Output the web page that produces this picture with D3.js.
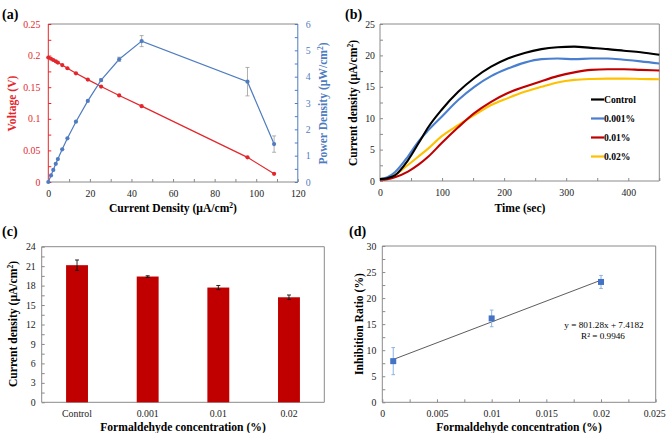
<!DOCTYPE html>
<html><head><meta charset="utf-8">
<script src="https://cdn.jsdelivr.net/npm/d3@7"></script>
<style>
body{margin:0;background:#fff}
</style>
</head><body><svg id="c" width="666" height="433" font-family="Liberation Serif, Times New Roman, serif"></svg>
<script>
// ---------- Panel (a) data ----------
const aCurrent  = [0, 1.3, 2.4, 3.6, 4.6, 6.7, 9.2, 13.3, 19.0, 25.4, 34.1, 44.9, 95.8, 108.6];
const aVoltage  = [0.197, 0.195, 0.193, 0.191, 0.189, 0.185, 0.180, 0.172, 0.162, 0.151, 0.137, 0.120, 0.039, 0.013];
const aPower    = [0, 0.25, 0.46, 0.69, 0.87, 1.24, 1.66, 2.29, 3.08, 3.87, 4.66, 5.35, 3.81, 1.44];
const aPowerErr = [0, 0, 0, 0, 0, 0, 0, 0, 0, 0.05, 0.08, 0.21, 0.54, 0.31];
const aXTicks = [0, 20, 40, 60, 80, 100, 120];
const aVTicks = [0, 0.05, 0.1, 0.15, 0.2, 0.25];
const aPTicks = [0, 1, 2, 3, 4, 5, 6];

// ---------- Panel (b) data ----------
const bTime    = [0, 12, 24, 45, 62, 78, 99, 126, 152, 179, 206, 233, 260, 286, 313, 340, 367, 393, 420, 450];
const bControl = [0.3, 0.45, 0.9, 3.3, 6.0, 8.6, 11.3, 14.2, 16.4, 18.2, 19.5, 20.4, 21.0, 21.3, 21.4, 21.2, 21.0, 20.75, 20.5, 20.1];
const b0001    = [0.3, 0.6, 1.4, 3.9, 6.3, 8.1, 10.2, 12.9, 15.0, 16.7, 17.9, 18.85, 19.4, 19.5, 19.4, 19.5, 19.5, 19.3, 19.05, 18.7];
const b001     = [0.2, 0.3, 0.6, 1.5, 2.6, 3.9, 6.0, 8.55, 10.8, 12.6, 14.0, 15.0, 15.9, 16.7, 17.3, 17.7, 17.8, 17.8, 17.7, 17.6];
const b002     = [0.3, 0.5, 0.95, 2.55, 3.9, 5.2, 7.1, 8.9, 10.5, 12.1, 13.2, 14.2, 15.0, 15.7, 16.1, 16.25, 16.3, 16.3, 16.25, 16.2];
const bNames   = ["Control", "0.001%", "0.01%", "0.02%"];
const bColors  = ["#000000", "#4a7fd0", "#c00000", "#ffc000"];
const bXTicks  = [0, 100, 200, 300, 400];
const bYTicks  = [0, 5, 10, 15, 20, 25];

// ---------- Panel (c) data ----------
const cCategories = ["Control", "0.001", "0.01", "0.02"];
const cValues     = [21.15, 19.4, 17.7, 16.2];
const cErrors     = [0.8, 0.12, 0.32, 0.35];
const cYTicks     = [0, 3, 6, 9, 12, 15, 18, 21, 24];

// ---------- Panel (d) data ----------
const dConc       = [0.001, 0.01, 0.02];
const dInhibition = [7.9, 16.1, 23.1];
const dErrors     = [2.6, 1.6, 1.25];
const dSlope = 801.28, dIntercept = 7.4182;
const dXTicks = [0, 0.005, 0.01, 0.015, 0.02, 0.025];
const dYTicks = [0, 5, 10, 15, 20, 25, 30];

const FONT = '"Liberation Serif", "Times New Roman", serif';
const svg = d3.select("#c");
const GRAY = "#8a8a8a";
const TXT = "#222";
const TICKFS = 9.8, TITLEFS = 11.6;

function styleAxis(g, color, fs) {
  g.attr("font-family", null).attr("font-size", null);
  g.select(".domain").remove();
  g.selectAll("line").attr("stroke", color);
  g.selectAll("text").attr("fill", color === GRAY ? TXT : color).style("font-size", fs + "px");
}
function minor(vals) {
  const out = [];
  for (let i = 0; i < vals.length - 1; i++) out.push((vals[i] + vals[i + 1]) / 2);
  return out;
}
function line(x1, y1, x2, y2, color, w) {
  svg.append("line").attr("x1", x1).attr("y1", y1).attr("x2", x2).attr("y2", y2)
    .attr("stroke", color).attr("stroke-width", w || 1);
}
function label(x, y, txt, opts) {
  const t = svg.append("text").attr("x", x).attr("y", y).text(txt)
    .attr("text-anchor", opts.anchor || "middle")
    .style("font-size", opts.size + "px").style("font-weight", opts.bold ? "bold" : "normal")
    .attr("fill", opts.color || "#000");
  if (opts.rot) t.attr("transform", `rotate(-90,${x},${y})`);
  return t;
}
function richLabel(x, y, parts, opts) {
  const t = svg.append("text").attr("x", x).attr("y", y)
    .attr("text-anchor", "middle").style("font-size", opts.size + "px")
    .style("font-weight", "bold").attr("fill", opts.color || "#000");
  parts.forEach(p => {
    const ts = t.append("tspan").text(p.t);
    if (p.sup) ts.attr("baseline-shift", "super").style("font-size", (opts.size * 0.65) + "px");
  });
  if (opts.rot) t.attr("transform", `rotate(-90,${x},${y})`);
}

// ================= Panel (a) =================
{
  const x = d3.scaleLinear().domain([0, 120]).range([48.3, 297.8]);
  const yV = d3.scaleLinear().domain([0, 0.25]).range([182, 24]);
  const yP = d3.scaleLinear().domain([0, 6]).range([182, 24]);
  const RED = "#e3262b", BLUE = "#4f7cc0";
  line(48.3, 24, 297.8, 24, GRAY);
  line(48.3, 182, 297.8, 182, GRAY);
  line(48.3, 24, 48.3, 182, RED);
  line(297.8, 24, 297.8, 182, BLUE);
  let g = svg.append("g").attr("transform", "translate(0,182)")
    .call(d3.axisBottom(x).tickValues(aXTicks).tickSize(-3).tickPadding(8).tickFormat(d3.format("d")));
  styleAxis(g, GRAY, TICKFS);
  g = svg.append("g").attr("transform", "translate(0,182)")
    .call(d3.axisBottom(x).tickValues(minor(aXTicks)).tickSize(-3).tickFormat(""));
  styleAxis(g, GRAY, TICKFS);
  g = svg.append("g").attr("transform", "translate(48.3,0)")
    .call(d3.axisLeft(yV).tickValues(aVTicks).tickSize(-3).tickPadding(8).tickFormat(d => d === 0 ? "0" : String(+d.toFixed(2))));
  styleAxis(g, RED, TICKFS);
  g = svg.append("g").attr("transform", "translate(48.3,0)")
    .call(d3.axisLeft(yV).tickValues(minor(aVTicks)).tickSize(-3).tickFormat(""));
  styleAxis(g, RED, TICKFS);
  g = svg.append("g").attr("transform", "translate(297.8,0)")
    .call(d3.axisRight(yP).tickValues(aPTicks).tickSize(-3).tickPadding(8).tickFormat(d3.format("d")));
  styleAxis(g, BLUE, TICKFS);
  g = svg.append("g").attr("transform", "translate(297.8,0)")
    .call(d3.axisRight(yP).tickValues(minor(aPTicks)).tickSize(-3).tickFormat(""));
  styleAxis(g, BLUE, TICKFS);

  const idx = d3.range(aCurrent.length);
  svg.append("path").datum(idx).attr("fill", "none").attr("stroke", RED).attr("stroke-width", 1.2)
    .attr("d", d3.line().x(i => x(aCurrent[i])).y(i => yV(aVoltage[i])));
  svg.selectAll(".vpt").data(idx).join("circle").attr("cx", i => x(aCurrent[i])).attr("cy", i => yV(aVoltage[i]))
    .attr("r", 2.1).attr("fill", RED);
  svg.append("path").datum(idx).attr("fill", "none").attr("stroke", BLUE).attr("stroke-width", 1.2)
    .attr("d", d3.line().x(i => x(aCurrent[i])).y(i => yP(aPower[i])));
  idx.filter(i => aPowerErr[i] > 0).forEach(i => {
    const cx = x(aCurrent[i]);
    const t = yP(aPower[i] + aPowerErr[i]), b = yP(aPower[i] - aPowerErr[i]);
    line(cx, t, cx, b, "#9a9a9a", 0.8);
    line(cx - 2, t, cx + 2, t, "#9a9a9a", 0.8);
    line(cx - 2, b, cx + 2, b, "#9a9a9a", 0.8);
  });
  svg.selectAll(".ppt").data(idx).join("circle").attr("cx", i => x(aCurrent[i])).attr("cy", i => yP(aPower[i]))
    .attr("r", 2.1).attr("fill", BLUE);

  label(2, 19, "(a)", { size: 14, bold: true, anchor: "start" });
  label(16, 103.5, "Voltage (V)", { size: TITLEFS, bold: true, color: RED, rot: true });
  richLabel(327, 103.5, [{ t: "Power Density (μW/cm" }, { t: "2", sup: true }, { t: ")" }], { size: TITLEFS, color: BLUE, rot: true });
  richLabel(173, 212, [{ t: "Current Density (μA/cm" }, { t: "2", sup: true }, { t: ")" }], { size: TITLEFS });
}

// ================= Panel (b) =================
{
  const x = d3.scaleLinear().domain([0, 450]).range([380, 659.3]);
  const y = d3.scaleLinear().domain([0, 25]).range([181, 24]);
  line(380, 24, 659.3, 24, GRAY);
  line(659.3, 24, 659.3, 181, GRAY);
  line(380, 181, 659.3, 181, GRAY);
  line(380, 24, 380, 181, GRAY);
  let g = svg.append("g").attr("transform", "translate(0,181)")
    .call(d3.axisBottom(x).tickValues(bXTicks).tickSize(-3).tickPadding(8.5).tickFormat(d3.format("d")));
  styleAxis(g, GRAY, TICKFS);
  g = svg.append("g").attr("transform", "translate(0,181)")
    .call(d3.axisBottom(x).tickValues([50, 150, 250, 350, 450]).tickSize(-3).tickFormat(""));
  styleAxis(g, GRAY, TICKFS);
  g = svg.append("g").attr("transform", "translate(380,0)")
    .call(d3.axisLeft(y).tickValues(bYTicks).tickSize(-3).tickPadding(5).tickFormat(d3.format("d")));
  styleAxis(g, GRAY, TICKFS);
  g = svg.append("g").attr("transform", "translate(380,0)")
    .call(d3.axisLeft(y).tickValues(minor(bYTicks)).tickSize(-3).tickFormat(""));
  styleAxis(g, GRAY, TICKFS);

  const series = [bControl, b0001, b001, b002];
  const gen = d3.line().curve(d3.curveMonotoneX).x((d, i) => x(bTime[i])).y(d => y(d));
  [3, 2, 1, 0].forEach(k => {
    svg.append("path").datum(series[k]).attr("fill", "none").attr("stroke", bColors[k])
      .attr("stroke-width", 2.1).attr("d", gen);
  });
  bNames.forEach((n, k) => {
    const ly = 99.5 + k * 19;
    line(591, ly, 604, ly, bColors[k], 2.2);
    label(604, ly + 3.3, n, { size: 9.6, bold: true, anchor: "start" });
  });
  label(345, 19, "(b)", { size: 14, bold: true, anchor: "start" });
  richLabel(357, 103, [{ t: "Current density (μA/cm" }, { t: "2", sup: true }, { t: ")" }], { size: TITLEFS, rot: true });
  label(520, 212, "Time (sec)", { size: TITLEFS, bold: true });
}

// ================= Panel (c) =================
{
  const x = d3.scaleBand().domain(cCategories).range([41.7, 324.3]).paddingInner(0.69).paddingOuter(0.345);
  const y = d3.scaleLinear().domain([0, 24]).range([402.3, 246.7]);
  line(41.7, 246.7, 324.3, 246.7, GRAY);
  line(324.3, 246.7, 324.3, 402.3, GRAY);
  line(41.7, 246.7, 41.7, 402.3, GRAY);
  let g = svg.append("g").attr("transform", "translate(41.7,0)")
    .call(d3.axisLeft(y).tickValues(cYTicks).tickSize(-3).tickPadding(6).tickFormat(d3.format("d")));
  styleAxis(g, GRAY, TICKFS);
  g = svg.append("g").attr("transform", "translate(41.7,0)")
    .call(d3.axisLeft(y).tickValues(minor(cYTicks)).tickSize(-3).tickFormat(""));
  styleAxis(g, GRAY, TICKFS);
  g = svg.append("g").attr("transform", "translate(0,402.3)")
    .call(d3.axisBottom(x).tickSize(0).tickPadding(8));
  styleAxis(g, GRAY, TICKFS);
  line(41.7, 402.3, 324.3, 402.3, GRAY);

  svg.selectAll(".bar").data(cCategories).join("rect")
    .attr("x", c => x(c)).attr("width", x.bandwidth())
    .attr("y", (c, i) => y(cValues[i])).attr("height", (c, i) => y(0) - y(cValues[i]))
    .attr("fill", "#c00000");
  cCategories.forEach((c, i) => {
    const cx = x(c) + x.bandwidth() / 2;
    const t = y(cValues[i] + cErrors[i]), b = y(cValues[i] - cErrors[i]);
    line(cx, t, cx, b, "#111", 0.9);
    line(cx - 2, t, cx + 2, t, "#111", 0.9);
    line(cx - 2, b, cx + 2, b, "#111", 0.9);
  });
  label(2, 236, "(c)", { size: 14, bold: true, anchor: "start" });
  richLabel(17, 324, [{ t: "Current density (μA/cm" }, { t: "2", sup: true }, { t: ")" }], { size: TITLEFS, rot: true });
  label(183, 431, "Formaldehyde concentration (%)", { size: TITLEFS, bold: true });
}

// ================= Panel (d) =================
{
  const x = d3.scaleLinear().domain([0, 0.025]).range([382.3, 655.7]);
  const y = d3.scaleLinear().domain([0, 30]).range([402.3, 246]);
  line(382.3, 246, 655.7, 246, GRAY);
  line(655.7, 246, 655.7, 402.3, GRAY);
  line(382.3, 246, 382.3, 402.3, GRAY);
  line(382.3, 402.3, 655.7, 402.3, GRAY);
  let g = svg.append("g").attr("transform", "translate(382.3,0)")
    .call(d3.axisLeft(y).tickValues(dYTicks).tickSize(-3).tickPadding(6).tickFormat(d3.format("d")));
  styleAxis(g, GRAY, TICKFS);
  g = svg.append("g").attr("transform", "translate(382.3,0)")
    .call(d3.axisLeft(y).tickValues(minor(dYTicks)).tickSize(-3).tickFormat(""));
  styleAxis(g, GRAY, TICKFS);
  g = svg.append("g").attr("transform", "translate(0,402.3)")
    .call(d3.axisBottom(x).tickValues(dXTicks).tickSize(-3).tickPadding(7.5).tickFormat(d => d === 0 ? "0" : String(+d.toFixed(3))));
  styleAxis(g, GRAY, TICKFS);
  g.selectAll(".tick").filter(d => d === 0.025).select("text").attr("text-anchor", "end").attr("x", 9.5);
  g = svg.append("g").attr("transform", "translate(0,402.3)")
    .call(d3.axisBottom(x).tickValues(minor(dXTicks)).tickSize(-3).tickFormat(""));
  styleAxis(g, GRAY, TICKFS);

  const x0 = dConc[0], x1 = dConc[dConc.length - 1];
  line(x(x0), y(dSlope * x0 + dIntercept), x(x1), y(dSlope * x1 + dIntercept), "#4a4a4a", 0.9);
  dConc.forEach((c, i) => {
    const cx = x(c);
    const t = y(dInhibition[i] + dErrors[i]), b = y(dInhibition[i] - dErrors[i]);
    line(cx, t, cx, b, "#8db3e2", 1);
    line(cx - 1.8, t, cx + 1.8, t, "#8db3e2", 1);
    line(cx - 1.8, b, cx + 1.8, b, "#8db3e2", 1);
  });
  svg.selectAll(".dpt").data(dConc).join("rect")
    .attr("x", c => x(c) - 3).attr("y", (c, i) => y(dInhibition[i]) - 3)
    .attr("width", 6).attr("height", 6).attr("fill", "#4472c4");
  label(604, 328, `y = ${dSlope}x + ${dIntercept}`, { size: 9.2 });
  label(603, 339, "R² = 0.9946", { size: 9.2 });
  label(349, 236, "(d)", { size: 14, bold: true, anchor: "start" });
  label(363, 324, "Inhibition Ratio (%)", { size: TITLEFS, bold: true, rot: true });
  label(519, 431, "Formaldehyde concentration (%)", { size: TITLEFS, bold: true });
}
svg.selectAll("text").style("font-family", FONT);
</script>
</body></html>
